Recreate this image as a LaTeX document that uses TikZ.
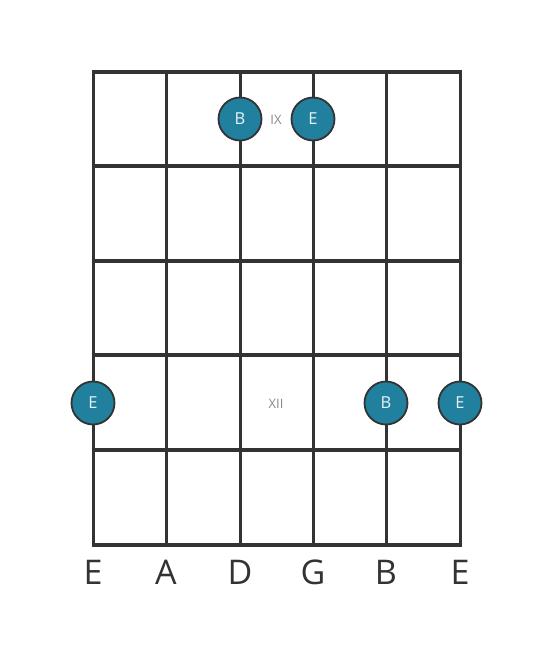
\documentclass[tikz,border=0pt]{standalone}
\usepackage{fontspec}
\setmainfont{Open Sans}
\definecolor{grid}{HTML}{333333}
\definecolor{dotfill}{HTML}{21809D}
\definecolor{dottext}{HTML}{E6F4F8}
\definecolor{roman}{HTML}{888888}
\begin{document}
\begin{tikzpicture}[x=1pt,y=-1pt,
  fretline/.style={draw=grid,line width=4.5pt},
  stringline/.style={draw=grid,line width=3pt},
  notedot/.style={circle,fill=dotfill,draw=grid,line width=1.8pt,minimum size=43pt,inner sep=0pt,text=dottext,font=\fontsize{16.5}{16.5}\selectfont},
  romanlbl/.style={text=roman,font=\fontsize{13}{13}\selectfont},
  strlbl/.style={text=grid,font=\fontsize{34}{34}\selectfont,anchor=center}]
\useasboundingbox (0,0) rectangle (553,656);
\foreach \x in {93,166,240,313,386,460} \draw[stringline] (\x,72) -- (\x,545);
\foreach \y in {72,166,261,355,450,545} \draw[fretline] (91.5,\y) -- (461.5,\y);
\node[notedot] (d1) at (240,119) {B};
\node[notedot] (d2) at (313,119) {E};
\node[notedot] (d3) at (93,403) {E};
\node[notedot] (d4) at (386,403) {B};
\node[notedot] (d5) at (460,403) {E};
\node[romanlbl] (r1) at (276,120) {IX};
\node[romanlbl] (r2) at (276,404) {XII};
\foreach \x/\n [count=\i] in {93/E,166/A,240/D,313/G,386/B,460/E}
  \node[strlbl] (s\i) at (\x,572) {\n};
\end{tikzpicture}
\end{document}
